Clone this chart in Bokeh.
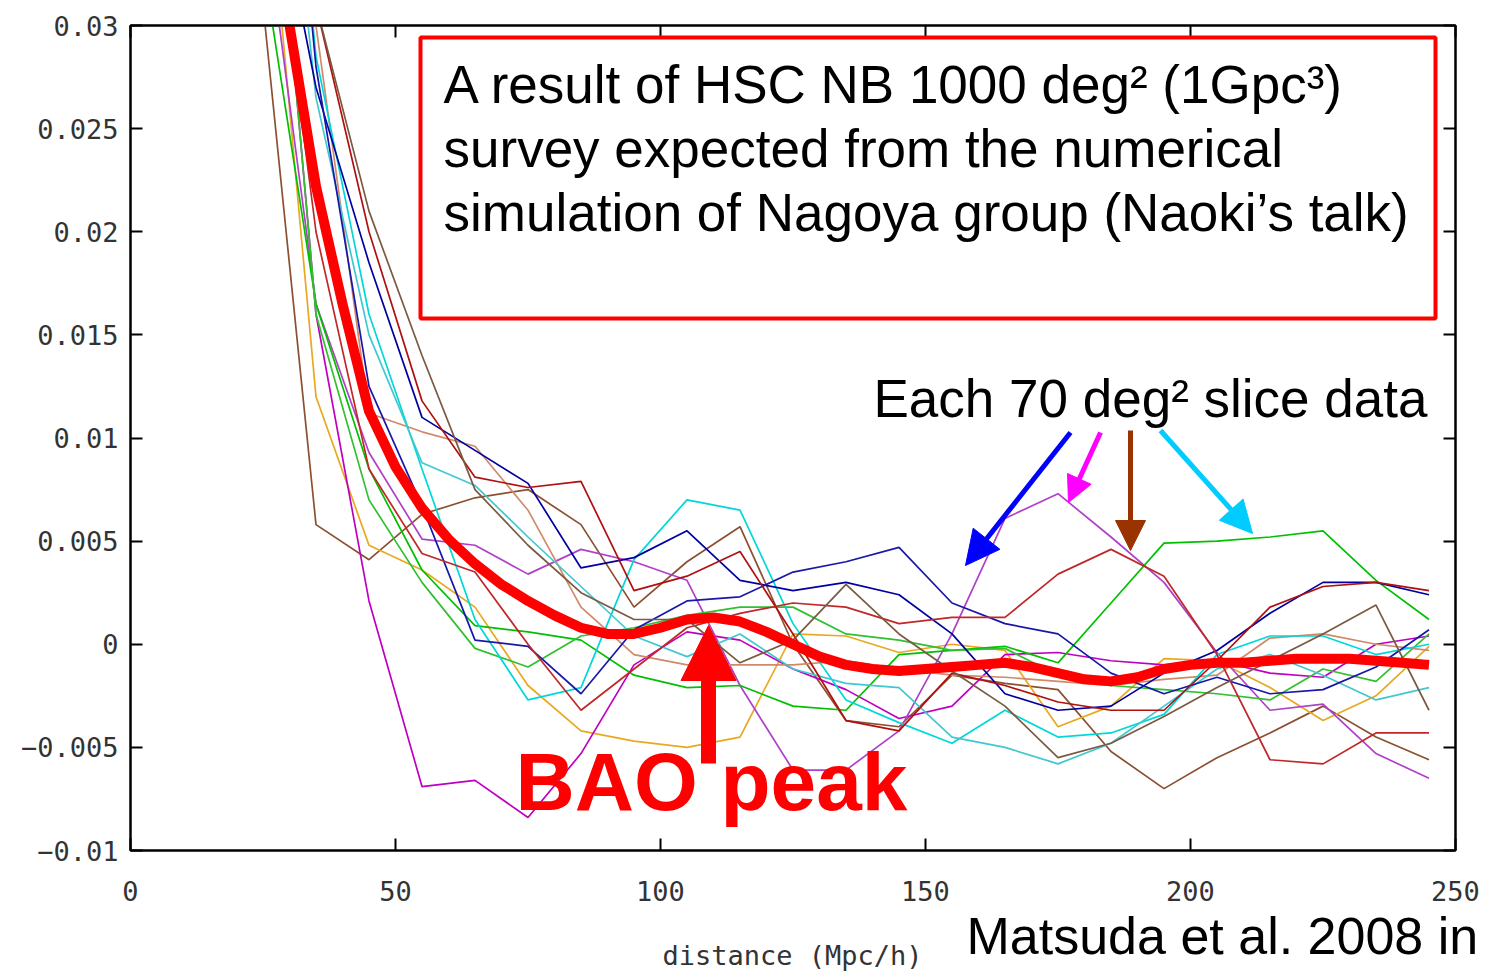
from bokeh.plotting import figure
from bokeh.layouts import column
from bokeh.models import Range1d, FixedTicker, LinearAxis, Label, BoxAnnotation, Arrow, NormalHead
from bokeh.embed import file_html
from bokeh.resources import INLINE

# ---------------- data ----------------
slice_x = [25, 35, 45, 55, 65, 75, 85, 95, 105, 115, 125, 135, 145, 155, 165, 175, 185, 195, 205, 215, 225, 235, 245]

darkred_a = [0.045, 0.031, 0.020, 0.0118, 0.0081, 0.0076, 0.0079, 0.0026, 0.0033, 0.0045, 0.0005, -0.0037, -0.0042, -0.0014, -0.0020, -0.0028, -0.0032, -0.0032, -0.0008, 0.0018, 0.0028, 0.0030, 0.0026]
darkred_b = [0.040, 0.020, 0.0085, 0.0044, 0.0035, 0.0000, -0.0032, -0.0012, 0.0008, 0.0015, 0.0020, 0.0018, 0.0010, 0.0013, 0.0013, 0.0034, 0.0046, 0.0033, -0.0005, -0.0056, -0.0058, -0.0043, -0.0043]
green_a = [0.033, 0.0165, 0.0085, 0.0036, 0.0009, 0.0006, 0.0002, -0.0015, -0.0021, -0.0020, -0.0030, -0.0032, -0.0005, -0.0003, -0.0001, -0.0009, 0.0020, 0.0049, 0.0050, 0.0052, 0.0055, 0.0031, 0.0012]
green_b = [0.045, 0.016, 0.0070, 0.0030, -0.0002, -0.0011, 0.0004, 0.0008, 0.0014, 0.0018, 0.0018, 0.0005, 0.0002, -0.0003, -0.0002, -0.0015, -0.0020, -0.0022, -0.0024, -0.0027, -0.0012, -0.0018, 0.0005]
navy_a = [0.040, 0.027, 0.0185, 0.0110, 0.0094, 0.0078, 0.0037, 0.0042, 0.0055, 0.0031, 0.0026, 0.0030, 0.0024, 0.0005, -0.0024, -0.0032, -0.0030, -0.0014, -0.0003, 0.0015, 0.0030, 0.0030, 0.0024]
navy_b = [0.055, 0.028, 0.0125, 0.0067, 0.0002, -0.0001, -0.0024, 0.0007, 0.0021, 0.0023, 0.0035, 0.0040, 0.0047, 0.0020, 0.0010, 0.0005, -0.0014, -0.0024, -0.0016, -0.0024, -0.0022, -0.0011, 0.0007]
magenta = [0.045, 0.016, 0.0021, -0.0069, -0.0066, -0.0084, -0.0053, -0.0010, 0.0006, 0.0002, -0.0012, -0.0022, -0.0036, -0.0030, -0.0005, -0.0004, -0.0008, -0.0010, -0.0008, -0.0014, -0.0016, 0.0000, 0.0004]
purple = [0.036, 0.0165, 0.0093, 0.0051, 0.0048, 0.0034, 0.0046, 0.0040, 0.0031, -0.0020, -0.0061, -0.0061, -0.0042, 0.0005, 0.0061, 0.0073, 0.0052, 0.0030, -0.0004, -0.0032, -0.0029, -0.0053, -0.0065]
cyan_a = [0.055, 0.0285, 0.0160, 0.0085, 0.0012, -0.0027, -0.0021, 0.0041, 0.0070, 0.0065, 0.0010, -0.0027, -0.0038, -0.0048, -0.0032, -0.0045, -0.0043, -0.0034, -0.0005, 0.0004, 0.0004, -0.0005, 0.0000]
cyan_b = [0.050, 0.0265, 0.0150, 0.0088, 0.0077, 0.0052, 0.0028, 0.0004, -0.0006, 0.0005, -0.0012, -0.0019, -0.0021, -0.0045, -0.0050, -0.0058, -0.0048, -0.0030, -0.0012, -0.0005, -0.0015, -0.0027, -0.0021]
brown_a = [0.031, 0.0058, 0.0041, 0.0063, 0.0071, 0.0075, 0.0058, 0.0018, 0.0040, 0.0057, 0.0000, -0.0037, -0.0040, -0.0015, -0.0019, -0.0022, -0.0052, -0.0070, -0.0055, -0.0043, -0.0030, -0.0045, -0.0056]
brown_b = [0.045, 0.031, 0.021, 0.0140, 0.0075, 0.0048, 0.0025, 0.0012, 0.0012, -0.0009, 0.0002, 0.0029, 0.0005, -0.0013, -0.0030, -0.0055, -0.0048, -0.0035, -0.0021, -0.0008, 0.0005, 0.0019, -0.0032]
orange = [0.040, 0.0120, 0.0048, 0.0036, 0.0018, -0.0020, -0.0042, -0.0047, -0.0050, -0.0045, 0.0005, 0.0004, -0.0004, 0.0000, -0.0003, -0.0040, -0.0030, -0.0007, -0.0008, -0.0021, -0.0037, -0.0025, -0.0001]
tan = [0.060, 0.030, 0.0112, 0.0103, 0.0096, 0.0065, 0.0018, -0.0005, -0.0010, -0.0010, -0.0010, -0.0008, -0.0012, -0.0015, -0.0016, -0.0018, -0.0020, -0.0017, -0.0015, 0.0003, 0.0005, 0.0000, -0.0003]

mean_x = [28, 30, 35, 40, 45, 50, 55, 60, 65, 70, 75, 80, 85, 90, 95, 100, 105, 110, 115, 120, 125, 130, 135, 140, 145,
          150, 155, 160, 165, 170, 175, 180, 185, 190, 195, 200, 205, 210, 215, 220, 225, 230, 235, 240, 245]
mean_y = [0.0330, 0.0300, 0.0222, 0.0165, 0.0113, 0.0086, 0.0066, 0.0051, 0.0039, 0.0029, 0.0021, 0.0014, 0.0008, 0.0005,
          0.0005, 0.0008, 0.0012, 0.0013, 0.0011, 0.0006, 0.0000, -0.0006, -0.0010, -0.0012, -0.0013, -0.0012, -0.0011,
          -0.0010, -0.0009, -0.0011, -0.0014, -0.0017, -0.0018, -0.0016, -0.0012, -0.0010, -0.0009, -0.0009, -0.0008,
          -0.0007, -0.0007, -0.0007, -0.0008, -0.0009, -0.0010]

x_ticks = [0, 50, 100, 150, 200, 250]
y_ticks = [-0.01, -0.005, 0, 0.005, 0.01, 0.015, 0.02, 0.025, 0.03]
y_tick_labels = ["\u22120.01", "\u22120.005", "0", "0.005", "0.01", "0.015", "0.02", "0.025", "0.03"]

slices = [
    (brown_a, "#8b5030"), (orange, "#e8a820"), (magenta, "#c000c0"), (purple, "#b040c8"),
    (green_a, "#00c000"), (green_b, "#30c030"), (tan, "#d08a6a"), (cyan_a, "#00d8d8"),
    (cyan_b, "#40c8d0"), (navy_a, "#0000a0"), (navy_b, "#1818a8"), (darkred_a, "#b01010"),
    (darkred_b, "#c02828"), (brown_b, "#7a5a40"),
]

# ---------------- main figure ----------------
p = figure(width=1486, height=912, x_range=Range1d(0, 250), y_range=Range1d(-0.01, 0.03),
           output_backend="svg", toolbar_location=None,
           min_border_left=130, min_border_right=31, min_border_top=25, min_border_bottom=62)
p.grid.visible = False
p.outline_line_color = "black"
p.outline_line_width = 2
p.background_fill_color = "white"
p.border_fill_color = "white"

for ys, c in slices:
    p.line(slice_x, ys, line_color=c, line_width=1.7)
p.line(mean_x, mean_y, line_color="#ff0000", line_width=10, line_join="round")

tick_font = "DejaVu Sans Mono"
xa = p.xaxis[0]
xa.ticker = FixedTicker(ticks=x_ticks)
ya = p.yaxis[0]
ya.ticker = FixedTicker(ticks=y_ticks)
ya.major_label_overrides = {t: l for t, l in zip(y_ticks, y_tick_labels)}
for ax in (xa, ya):
    ax.axis_line_width = 2
    ax.major_tick_in = 12
    ax.major_tick_out = 0
    ax.major_tick_line_width = 2
    ax.minor_tick_in = 0
    ax.minor_tick_out = 0
    ax.major_label_text_font = tick_font
    ax.major_label_text_font_size = "27px"
    ax.major_label_text_color = "#333333"
xa.major_label_standoff = 30
ya.major_label_standoff = 12

for loc, tk in (("right", y_ticks), ("above", x_ticks)):
    ax = LinearAxis(ticker=FixedTicker(ticks=tk))
    ax.major_label_overrides = {t: "" for t in tk}
    ax.major_label_text_font_size = "10px"
    ax.axis_line_width = 2
    ax.major_tick_in = 12
    ax.major_tick_out = 0
    ax.major_tick_line_width = 2
    ax.minor_tick_in = 0
    ax.minor_tick_out = 0
    ax.major_label_standoff = 0
    p.add_layout(ax, loc)

# ---------------- annotations ----------------
def ypx(py):
    # pixel row of the reference -> data y (frame: 0.03 at row 25, -0.01 at row 850)
    return 0.03 - (py - 25) * 0.04 / 825

def xpx(px):
    return (px - 130) * 250 / 1325

p.add_layout(BoxAnnotation(left=xpx(420), right=xpx(1435), top=ypx(37), bottom=ypx(318),
                           fill_color="white", fill_alpha=1.0, line_color="#ff0000",
                           line_alpha=1.0, line_width=4))

txt_font = "Liberation Sans"
box_lines = ["A result of HSC NB 1000 deg\u00b2 (1Gpc\u00b3)",
             "survey expected from the numerical",
             "simulation of Nagoya group (Naoki\u2019s talk)"]
box_centres = [84, 148, 212]
for t, cy in zip(box_lines, box_centres):
    p.add_layout(Label(x=xpx(443), y=ypx(cy), text=t, text_font=txt_font,
                       text_font_size="53px", text_color="black", text_baseline="middle"))

p.add_layout(Label(x=xpx(873), y=ypx(398), text="Each 70 deg\u00b2 slice data",
                   text_font=txt_font, text_font_size="53px", text_color="black", text_baseline="middle"))

arrows = [
    (1070, 432, 965, 565, "#0000ff", 34),
    (1100, 432, 1068, 502, "#ff00ff", 26),
    (1130, 430, 1130, 550, "#993300", 30),
    (1160, 430, 1252, 533, "#00ccff", 32),
]
for x0, y0, x1, y1, c, sz in arrows:
    p.add_layout(Arrow(end=NormalHead(size=sz, fill_color=c, line_color=c, line_width=1),
                       x_start=xpx(x0), y_start=ypx(y0), x_end=xpx(x1), y_end=ypx(y1),
                       line_color=c, line_width=5))

p.add_layout(Arrow(end=NormalHead(size=55, fill_color="#ff0000", line_color="#ff0000", line_width=1),
                   x_start=xpx(708), y_start=ypx(763), x_end=xpx(708), y_end=ypx(625),
                   line_color="#ff0000", line_width=15))

p.add_layout(Label(x=xpx(515), y=ypx(781), text="BAO peak", text_font=txt_font,
                   text_font_size="82px", text_font_style="bold", text_color="#ff0000",
                   text_baseline="middle"))

# ---------------- bottom strip (transparent, overlapping the last 12 px): axis title and citation ----------------
STRIP_TOP = 900
s = figure(width=1486, height=72, x_range=Range1d(0, 1486), y_range=Range1d(72, 0),
           x_axis_type=None, y_axis_type=None,
           output_backend="svg", toolbar_location=None,
           min_border_left=0, min_border_right=0, min_border_top=0, min_border_bottom=0)
s.margin = (STRIP_TOP - 912, 0, 0, 0)
for fig in (p, s):
    if "frame_align" in fig.properties():
        fig.frame_align = False
s.grid.visible = False
s.outline_line_color = None
s.background_fill_color = None
s.border_fill_color = None
s.add_layout(Label(x=792, y=955 - STRIP_TOP, text="distance (Mpc/h)", text_font=tick_font,
                   text_font_size="27px", text_color="#333333", text_align="center",
                   text_baseline="middle"))
s.add_layout(Label(x=966, y=935 - STRIP_TOP, text="Matsuda et al. 2008 in", text_font=txt_font,
                   text_font_size="52px", text_color="black", text_align="left",
                   text_baseline="middle"))

layout = column(p, s, spacing=0)
open("out.html", "w").write(file_html(layout, INLINE))
